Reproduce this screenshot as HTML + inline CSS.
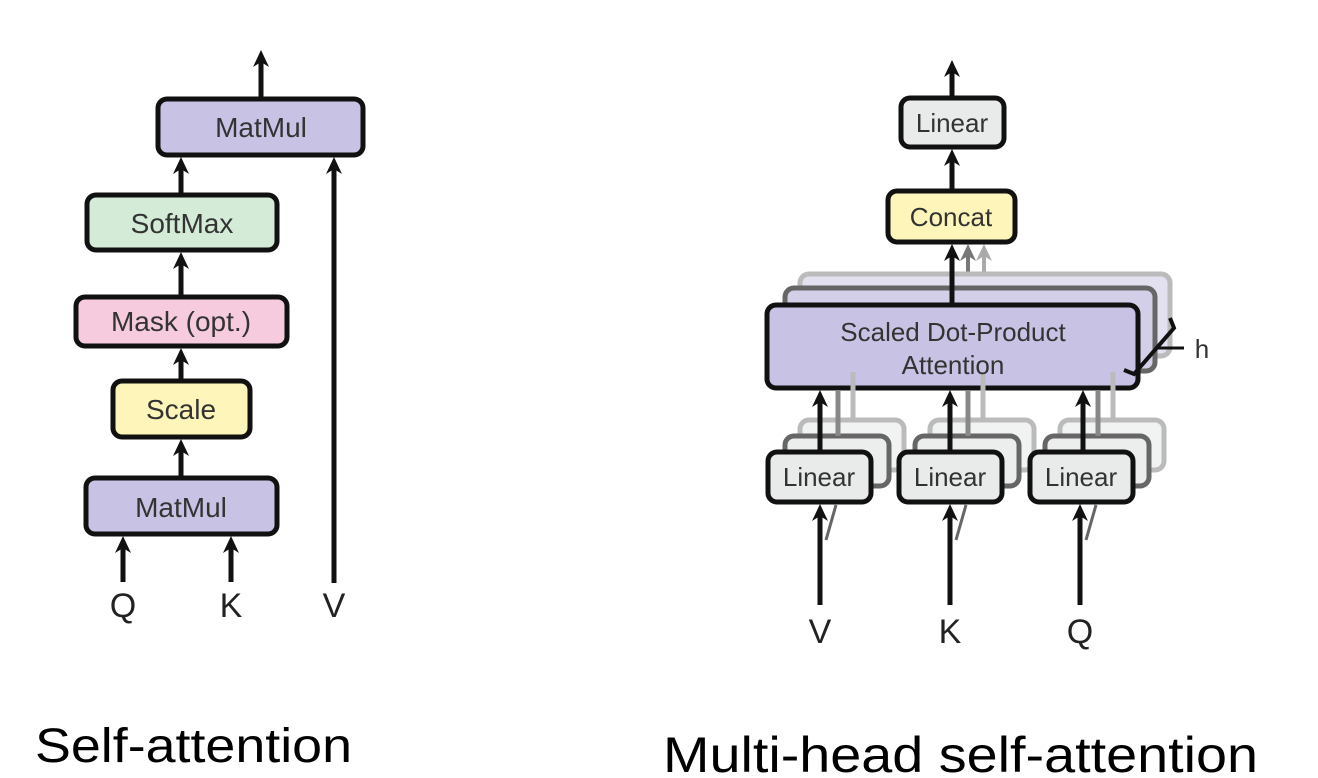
<!DOCTYPE html>
<html><head><meta charset="utf-8"><style>
html,body{margin:0;padding:0;background:#fff}
svg{display:block}
text{font-family:"Liberation Sans",sans-serif}
</style></head><body>
<svg width="1318" height="778" viewBox="0 0 1318 778" xmlns="http://www.w3.org/2000/svg">
<defs>
<path id="h" d="M0,0 L-8,17 L0,12 L8,17 Z"/>
</defs>
<g stroke="#111" stroke-width="5" fill="none">
<!-- left diagram -->
<line x1="261" y1="98" x2="261" y2="62"/>
<rect x="158" y="99" width="205" height="56" rx="9" fill="#c8c2e4"/>
<line x1="181" y1="195" x2="181" y2="166"/>
<line x1="334" y1="583" x2="334" y2="166"/>
<rect x="87" y="195" width="190" height="55" rx="9" fill="#d3ebd7"/>
<line x1="181" y1="296" x2="181" y2="262"/>
<rect x="76" y="297" width="211" height="49" rx="9" fill="#f6cbdd"/>
<line x1="181" y1="381" x2="181" y2="356"/>
<rect x="113" y="381" width="137" height="56" rx="9" fill="#fdf5b9"/>
<line x1="181" y1="477" x2="181" y2="448"/>
<rect x="86" y="478" width="191" height="56" rx="9" fill="#c8c2e4"/>
<line x1="123" y1="582" x2="123" y2="545"/>
<line x1="231" y1="582" x2="231" y2="545"/>

<!-- right diagram -->
<line x1="952" y1="97" x2="952" y2="70"/>
<rect x="901" y="98" width="103" height="49" rx="9" fill="#e9ebeb"/>
<line x1="952" y1="190" x2="952" y2="160"/>
<rect x="888" y="191" width="127" height="51" rx="9" fill="#fdf5b9"/>
<line x1="968" y1="285" x2="968" y2="255" stroke="#777" stroke-width="4"/>
<line x1="984" y1="272" x2="984" y2="255" stroke="#aaa" stroke-width="4"/>
<rect x="800" y="274" width="370" height="82" rx="9" fill="#e3e0ef" stroke="#bbb"/>
<rect x="785" y="288" width="370" height="83" rx="9" fill="#d4cfe8" stroke="#666"/>
<line x1="952" y1="304" x2="952" y2="255"/>
<rect x="767" y="305" width="371" height="83" rx="9" fill="#c8c2e4"/>
<path d="M1170,318 l4,10 l-40,46 l-10,-4" stroke-width="4"/>
<line x1="1158" y1="348" x2="1184" y2="348" stroke-width="3"/>
<rect x="800" y="420" width="104" height="50" rx="9" fill="#f1f3f2" stroke="#bbb"/>
<rect x="930" y="420" width="104" height="50" rx="9" fill="#f1f3f2" stroke="#bbb"/>
<rect x="1060" y="420" width="104" height="50" rx="9" fill="#f1f3f2" stroke="#bbb"/>
<rect x="785" y="436" width="104" height="50" rx="9" fill="#eceeed" stroke="#666"/>
<rect x="915" y="436" width="104" height="50" rx="9" fill="#eceeed" stroke="#666"/>
<rect x="1045" y="436" width="104" height="50" rx="9" fill="#eceeed" stroke="#666"/>
<g stroke="#888">
<line x1="838" y1="436" x2="838" y2="390"/><line x1="853" y1="420" x2="853" y2="372" stroke="#bbb"/>
<line x1="968" y1="436" x2="968" y2="390"/><line x1="983" y1="420" x2="983" y2="372" stroke="#bbb"/>
<line x1="1098" y1="436" x2="1098" y2="390"/><line x1="1113" y1="420" x2="1113" y2="372" stroke="#bbb"/>
</g>
<line x1="820" y1="451" x2="820" y2="400"/>
<line x1="950" y1="451" x2="950" y2="400"/>
<line x1="1083" y1="451" x2="1083" y2="400"/>
<rect x="768" y="452" width="103" height="50" rx="9" fill="#e9ebeb"/>
<rect x="899" y="452" width="103" height="50" rx="9" fill="#e9ebeb"/>
<rect x="1030" y="452" width="103" height="50" rx="9" fill="#e9ebeb"/>
<g stroke="#666" stroke-width="3">
<line x1="826" y1="540" x2="836" y2="505"/><line x1="956" y1="540" x2="966" y2="505"/><line x1="1086" y1="540" x2="1096" y2="505"/>
</g>
<line x1="820" y1="605" x2="820" y2="515"/>
<line x1="950" y1="605" x2="950" y2="515"/>
<line x1="1080" y1="605" x2="1080" y2="515"/>
</g>
<g fill="#111">
<use href="#h" x="261" y="50"/>
<use href="#h" x="181" y="157"/>
<use href="#h" x="334" y="157"/>
<use href="#h" x="181" y="252"/>
<use href="#h" x="181" y="348"/>
<use href="#h" x="181" y="439"/>
<use href="#h" x="123" y="536"/>
<use href="#h" x="231" y="536"/>
<use href="#h" x="952" y="60"/>
<use href="#h" x="952" y="149"/>
<use href="#h" x="952" y="244"/>
<use href="#h" x="820" y="390"/>
<use href="#h" x="950" y="390"/>
<use href="#h" x="1083" y="390"/>
<use href="#h" x="820" y="504"/>
<use href="#h" x="950" y="504"/>
<use href="#h" x="1080" y="504"/>
</g>
<use href="#h" x="968" y="244" fill="#777"/>
<use href="#h" x="984" y="244" fill="#aaa"/>
<g fill="#333" text-anchor="middle" font-size="28">
<text x="261" y="137">MatMul</text>
<text x="182" y="233">SoftMax</text>
<text x="181" y="331">Mask (opt.)</text>
<text x="181" y="419">Scale</text>
<text x="181" y="517">MatMul</text>
<text x="952" y="132" font-size="26">Linear</text>
<text x="951" y="226" font-size="26">Concat</text>
<text x="953" y="341" font-size="26">Scaled Dot-Product</text>
<text x="953" y="374" font-size="26">Attention</text>
<text x="819" y="486" font-size="26">Linear</text>
<text x="950" y="486" font-size="26">Linear</text>
<text x="1081" y="486" font-size="26">Linear</text>
<text x="1202" y="358" font-size="26">h</text>
</g>
<g fill="#222" text-anchor="middle" font-size="34">
<text x="123" y="617">Q</text>
<text x="231" y="617">K</text>
<text x="334" y="617">V</text>
<text x="820" y="643">V</text>
<text x="950" y="643">K</text>
<text x="1080" y="643">Q</text>
</g>
<text x="35" y="762" font-size="48" fill="#000" textLength="317" lengthAdjust="spacingAndGlyphs">Self-attention</text>
<text x="663" y="772" font-size="50" fill="#000" textLength="595" lengthAdjust="spacingAndGlyphs">Multi-head self-attention</text>
</svg>
</body></html>
